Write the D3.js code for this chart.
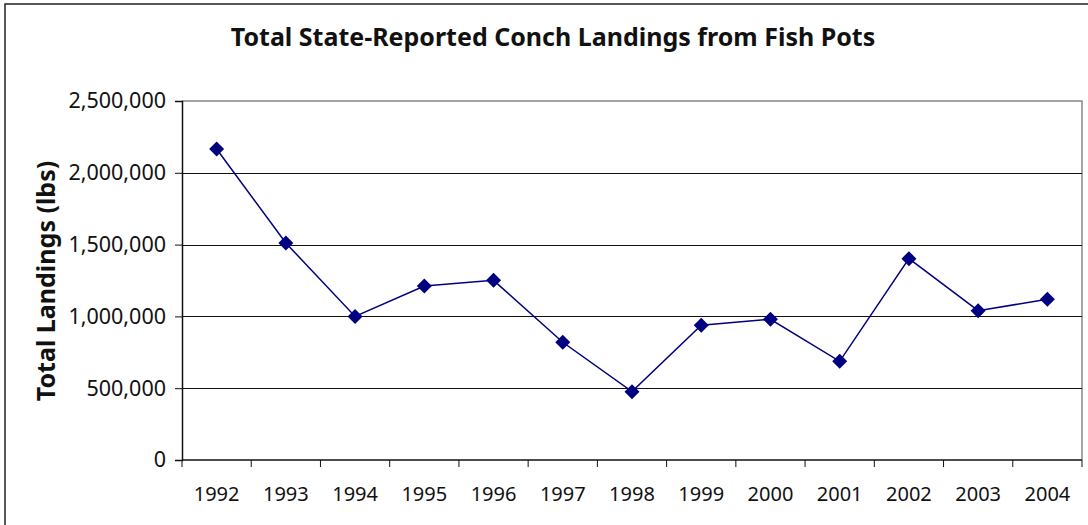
<!DOCTYPE html>
<html>
<head>
<meta charset="utf-8">
<script src="https://cdn.jsdelivr.net/npm/d3@7"></script>
<style>
  body { margin: 0; background: #fff; }
  svg { display: block; }
</style>
</head>
<body>
<svg id="chart" width="1088" height="525"></svg>
<script>
// chart data
var years = ["1992", "1993", "1994", "1995", "1996", "1997", "1998",
             "1999", "2000", "2001", "2002", "2003", "2004"];
var landings = [2166000, 1511000, 1000000, 1212000, 1251000, 820000, 476000,
                938000, 980000, 687000, 1402000, 1040000, 1119000];
var yTicks = [0, 500000, 1000000, 1500000, 2000000, 2500000];

var svg = d3.select("#chart");
var fontFam = "'Noto Sans', 'DejaVu Sans', sans-serif";

// outer chart frame (runs past the right and bottom edges)
svg.append("rect")
    .attr("x", 5).attr("y", 4)
    .attr("width", 1200).attr("height", 600)
    .attr("fill", "none")
    .attr("stroke", "#222")
    .attr("stroke-width", 1.5);

var plot = {left: 182, top: 101, right: 1082, bottom: 460};

var x = d3.scaleBand()
    .domain(years)
    .range([plot.left, plot.right]);

var y = d3.scaleLinear()
    .domain([0, 2500000])
    .range([plot.bottom, plot.top]);

// plot area outline (gray top/right)
svg.append("path")
    .attr("d", "M" + plot.left + "," + plot.top + "H" + plot.right + "V" + plot.bottom)
    .attr("fill", "none")
    .attr("stroke", "#888")
    .attr("stroke-width", 1.5);

// horizontal gridlines
svg.append("g")
    .selectAll("line")
    .data(yTicks.filter(function(d) { return d > 0 && d < 2500000; }))
    .join("line")
      .attr("x1", plot.left).attr("x2", plot.right)
      .attr("y1", function(d) { return Math.round(y(d)) + 0.5; })
      .attr("y2", function(d) { return Math.round(y(d)) + 0.5; })
      .attr("stroke", "#111")
      .attr("stroke-width", 1);

// y axis
var yAxis = svg.append("g")
    .attr("transform", "translate(" + plot.left + ",0)")
    .call(d3.axisLeft(y)
        .tickValues(yTicks)
        .tickSize(7)
        .tickPadding(9)
        .tickFormat(d3.format(",")));

// x axis: ticks on the category boundaries
var bounds = years.map(function(d) { return x(d); }).concat([plot.right]);
var xAxis = svg.append("g")
    .attr("transform", "translate(0," + plot.bottom + ")");
xAxis.append("line")
    .attr("x1", plot.left).attr("x2", plot.right)
    .attr("stroke", "#111").attr("stroke-width", 1.5);
xAxis.selectAll(".xtick")
    .data(bounds)
    .join("line")
      .attr("class", "xtick")
      .attr("x1", function(d) { return d; })
      .attr("x2", function(d) { return d; })
      .attr("y1", 0).attr("y2", 7)
      .attr("stroke", "#111");
xAxis.selectAll(".xlabel")
    .data(years)
    .join("text")
      .attr("class", "xlabel")
      .attr("x", function(d) { return x(d) + x.bandwidth() / 2; })
      .attr("y", 41)
      .attr("text-anchor", "middle")
      .attr("font-family", fontFam)
      .attr("font-size", 20)
      .attr("fill", "#111")
      .text(function(d) { return d; });

yAxis.select(".domain").attr("stroke", "#111").attr("stroke-width", 1.5);
yAxis.selectAll(".tick line").attr("stroke", "#111");
yAxis.selectAll("text")
    .attr("font-family", fontFam)
    .attr("font-size", 21.5)
    .attr("fill", "#111");

// series line
var line = d3.line()
    .x(function(d, i) { return x(years[i]) + x.bandwidth() / 2; })
    .y(function(d) { return y(d); });

svg.append("path")
    .datum(landings)
    .attr("d", line)
    .attr("fill", "none")
    .attr("stroke", "#000080")
    .attr("stroke-width", 1.5);

// diamond markers
svg.append("g")
    .selectAll("path")
    .data(landings)
    .join("path")
      .attr("transform", function(d, i) {
          return "translate(" + (x(years[i]) + x.bandwidth() / 2) + "," + y(d) + ")";
      })
      .attr("d", "M0,-7.5L7.5,0L0,7.5L-7.5,0Z")
      .attr("fill", "#000080");

// title
svg.append("text")
    .attr("x", 553).attr("y", 46)
    .attr("text-anchor", "middle")
    .attr("font-family", fontFam)
    .attr("font-weight", "bold")
    .attr("font-size", 25)
    .attr("fill", "#111")
    .text("Total State-Reported Conch Landings from Fish Pots");

// y axis title
svg.append("text")
    .attr("transform", "translate(55,281)rotate(-90)")
    .attr("text-anchor", "middle")
    .attr("font-family", fontFam)
    .attr("font-weight", "bold")
    .attr("font-size", 25)
    .attr("fill", "#111")
    .text("Total Landings (lbs)");
</script>
</body>
</html>
